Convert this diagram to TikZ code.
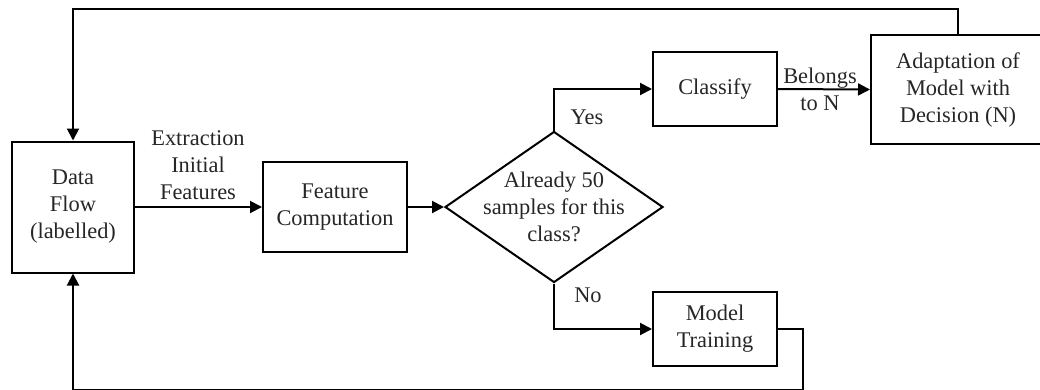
\documentclass[tikz,border=0pt]{standalone}
\usepackage{fontspec}
\setmainfont{Liberation Serif}
\usetikzlibrary{arrows.meta,shapes.geometric}
\begin{document}
\begin{tikzpicture}[x=1pt,y=-1pt,
  line width=2pt,
  every node/.style={font=\fontsize{22.4}{27}\selectfont, text=black!85},
  box/.style={draw=black, rectangle, inner sep=0pt, align=center},
  txt/.style={align=center, inner sep=0pt},
  flow/.style={-{Triangle[length=12pt,width=12pt]}},
]
\path[use as bounding box, clip] (0,0) rectangle (1040,389);

% process boxes
\node[box, minimum width=122, minimum height=131] (df) at (73,207) {Data\\Flow\\(labelled)};
\node[box, minimum width=144, minimum height=90] (fc) at (335,207) {Feature\\Computation};
\node[draw=black, diamond, minimum width=218, minimum height=151, inner sep=0pt] (dia) at (554,207) {};
\node[txt] (diatext) at (dia.center) {Already 50\\samples for this\\class?};
\node[box, minimum width=124, minimum height=74] (cls) at (715,89) {Classify};
\node[box, minimum width=178, minimum height=109] (adapt) at (960,89.5) {};
\node[txt] (adapttext) at (958,89.5) {Adaptation of\\Model with\\Decision (N)};
\node[box, minimum width=124, minimum height=74] (mt) at (715,329) {Model\\Training};

% edge labels
\node[txt] (lext) at (198,165) {Extraction\\Initial\\Features};
\node[txt] (lyes) at (587,117) {Yes};
\node[txt] (lno) at (588,295) {No};
\node[txt] (lbel) at (820,89.5) {Belongs\\to N};

% connectors
\draw[flow] (df.east) -- (fc.west);
\draw[flow] (fc.east) -- (dia.west);
\draw[flow] (dia.north) |- (cls.west);
\draw[flow] (dia.south) |- (mt.west);
\draw[flow] (cls.east) -- (adapt.west);
\draw[flow] (adapttext.center |- adapt.north) -- ++(0,-25) -| (df.north);
\draw[flow] (mt.east) -- ++(25,0) -- ++(0,60.8) -| (df.south);
\end{tikzpicture}
\end{document}
